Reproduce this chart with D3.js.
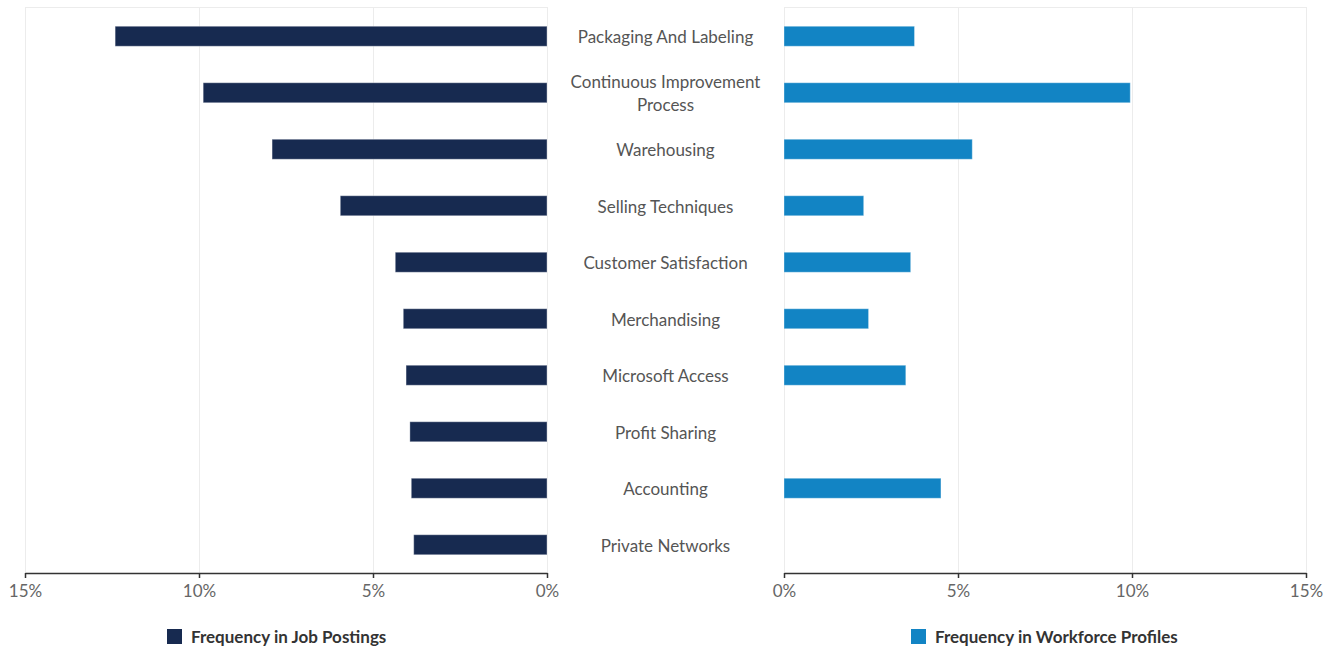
<!DOCTYPE html>
<html><head><meta charset="utf-8">
<script src="https://cdn.jsdelivr.net/npm/d3@7"></script>
<style>body{margin:0;background:#fff;font-family:Lato,"Open Sans",sans-serif;}</style>
</head><body><svg id="c" width="1337" height="649"></svg>
<script>
const categories = ["Packaging And Labeling","Continuous Improvement Process","Warehousing","Selling Techniques","Customer Satisfaction","Merchandising","Microsoft Access","Profit Sharing","Accounting","Private Networks"];
const jobPostings = [12.41, 9.88, 7.90, 5.94, 4.36, 4.13, 4.05, 3.94, 3.90, 3.83];
const workforceProfiles = [3.75, 9.95, 5.41, 2.29, 3.64, 2.43, 3.50, 0, 4.51, 0];
const tickValues = [0, 5, 10, 15];
const seriesNames = ["Frequency in Job Postings", "Frequency in Workforce Profiles"];
const colors = ["#172a50", "#1284c4"];

const svg = d3.select("#c");
const plotTop = 8, plotBottom = 573;
const y = d3.scaleBand().domain(categories).range([plotTop, plotBottom]).paddingInner(0.646).paddingOuter(0.323);
const xL = d3.scaleLinear().domain([15, 0]).range([25, 547]);
const xR = d3.scaleLinear().domain([0, 15]).range([784, 1306]);

function panel(x, vals, color, left) {
  const g = svg.append("g");
  g.append("line").attr("x1", x.range()[0]).attr("x2", x.range()[1]).attr("y1", plotTop-0.5).attr("y2", plotTop-0.5)
    .attr("stroke", "#ececec").attr("stroke-width", 1);
  g.selectAll(".grid").data(tickValues).join("line")
    .attr("x1", d => Math.round(x(d))+0.5).attr("x2", d => Math.round(x(d))+0.5)
    .attr("y1", plotTop-1).attr("y2", plotBottom).attr("stroke", "#ececec");
  g.selectAll(".bar").data(vals.map((v,i)=>({v, c:categories[i]}))).join("rect")
    .attr("x", d => left ? x(d.v) : x(0))
    .attr("width", d => Math.abs(x(d.v) - x(0)))
    .attr("y", d => y(d.c)).attr("height", y.bandwidth())
    .attr("fill", color).attr("stroke", d => d.v > 0 ? "rgba(255,255,255,0.35)" : "none").attr("stroke-width", 1);
  const ax = g.append("g").attr("transform", `translate(0,${plotBottom})`)
    .call(d3.axisBottom(x).tickValues(tickValues).tickFormat(d => d + "%").tickSize(5).tickSizeOuter(0));
  ax.select(".domain").attr("stroke", "#333").attr("stroke-width", 1.5);
  ax.selectAll(".tick line").attr("stroke", "#333").attr("stroke-width", 1.5);
  ax.selectAll("text").attr("fill", "#666").attr("font-size", 17).attr("font-family", "Lato").attr("dy", "0.95em");
}
panel(xL, jobPostings, colors[0], true);
panel(xR, workforceProfiles, colors[1], false);

const cx = (547 + 784) / 2;
const lab = svg.append("g").attr("font-family", "Lato").attr("font-size", 17).attr("fill", "#555").attr("text-anchor", "middle");
categories.forEach(c => {
  const cy = y(c) + y.bandwidth()/2;
  let lines = [c];
  if (c.length > 26) { const i = c.lastIndexOf(" "); lines = [c.slice(0,i), c.slice(i+1)]; }
  const t = lab.append("text").attr("x", cx).attr("y", cy - (lines.length-1)*11.5);
  lines.forEach((l, k) => t.append("tspan").attr("x", cx).attr("dy", k === 0 ? "0.4em" : 23).text(l));
});

const legend = [{x:167, name:seriesNames[0], color:colors[0]}, {x:911, name:seriesNames[1], color:colors[1]}];
const lg = svg.selectAll(".lg").data(legend).join("g").attr("transform", d => `translate(${d.x},629)`);
lg.append("rect").attr("width", 15).attr("height", 15).attr("fill", d => d.color);
lg.append("text").attr("x", 24).attr("y", 14).attr("font-family", "Lato").attr("font-weight", 700)
  .attr("font-size", 17).attr("fill", "#333").text(d => d.name);
</script></body></html>
